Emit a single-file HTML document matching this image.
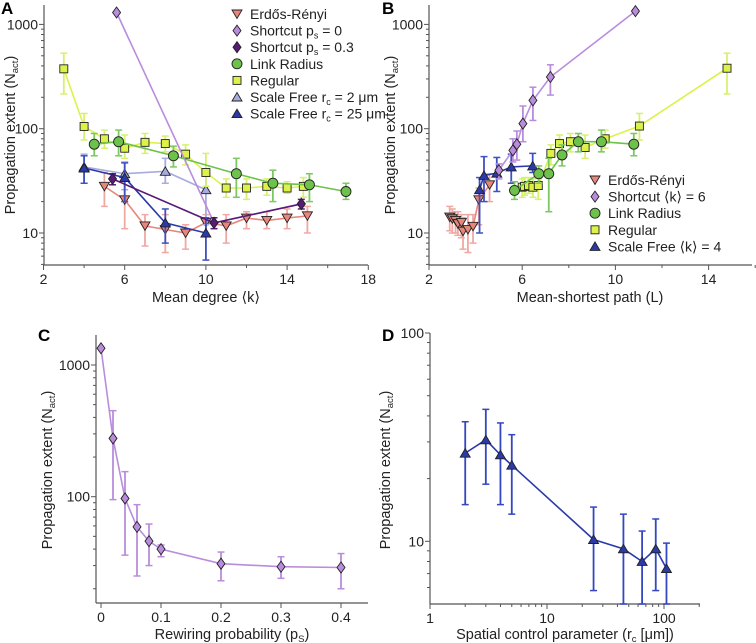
<!DOCTYPE html>
<html><head><meta charset="utf-8">
<style>
body{margin:0;background:#fff;}
svg{display:block;font-family:"Liberation Sans",Arial,sans-serif;}
</style></head>
<body>
<svg id="s" width="756" height="643" viewBox="0 0 756 643" xmlns="http://www.w3.org/2000/svg"></svg>
<script>
// ---------- Panel A data (x = mean degree) ----------
const aErX=[5,6,7,8,9,10,11,12,13,14,15];
const aErY=[28,20.8,11.7,10.8,10,12.6,11.7,13.9,13.2,13.9,14.6];
const aErLo=[18,11,7.5,6.5,7,10,8,11,11,11,10];
const aErHi=[38,33,15,15,12,15,15,16,16,17,18];
const aSc0X=[5.6,10.4,14.7];
const aSc0Y=[1300,12.5,19];
const aSc3X=[5.4,10.4,14.7];
const aSc3Y=[33,12.5,19];
const aSc3Lo=[29,11,17];
const aSc3Hi=[37,14,21];
const aLrX=[4.5,5.7,8.4,11.5,13.3,15.1,16.9];
const aLrY=[71,75,55,37,30,29,25];
const aLrLo=[55,55,43,22,20,20,21];
const aLrHi=[90,97,68,52,40,37,30];
const aRgX=[3,4,5,6,7,8,9,10,11,12,13,14,14.8];
const aRgY=[375,105,80,65,74,72,57,38,27,27,28,27,28];
const aRgLo=[215,78,65,52,58,60,45,28,22,21,23,24,22];
const aRgHi=[530,140,97,87,90,85,70,58,33,33,33,31,34];
const aSf2X=[4,6,8,10];
const aSf2Y=[43,37,39,26];
const aSf2Lo=[30,26,30,12];
const aSf2Hi=[57,48,52,38];
const aSf25X=[4,6,8,10];
const aSf25Y=[42,34,12.5,10];
const aSf25Lo=[30,20,8,5.5];
const aSf25Hi=[55,47,17,14];
// ---------- Panel B data (x = mean shortest path) ----------
const bErX=[2.89,3.0,3.14,3.24,3.39,3.46,3.67,3.89,4.14,4.6];
const bErY=[14.2,13.7,13.2,12.3,12.6,10.4,10.8,11.6,20.8,29];
const bErLo=[10.5,10,10,9.5,9,7,6.5,8,12,20];
const bErHi=[18,17,16,16,15,14,15,15,27,37];
const bScX=[5.0,5.6,5.77,6.03,6.46,7.21,10.86];
const bScY=[40,62,71,112,187,313,1340];
const bScLo=[33,48,50,75,120,210,1300];
const bScHi=[46,80,95,165,250,410,1380];
const bLrX=[5.67,6.71,7.14,7.71,8.41,9.4,10.79];
const bLrY=[25.6,37,37,56,75,75,71];
const bLrLo=[21,30,16,44,60,60,55];
const bLrHi=[31,44,52,70,90,97,90];
const bRgX=[6.0,6.1,6.27,6.46,6.69,7.23,7.6,8.07,8.7,9.56,11.03,14.79];
const bRgY=[27.5,28,28.5,27.5,28.5,58,72,75,66,80,106,380];
const bRgLo=[22,23,24,22,21,45,58,60,52,65,78,215];
const bRgHi=[33,34,34,33,36,70,87,90,87,97,140,530];
const bSfX=[4.17,4.36,4.91,5.53,6.45];
const bSfY=[26,35.6,37.5,43,44];
const bSfLo=[10,20,25,30,38];
const bSfHi=[34,54,53,57,58];
// ---------- Panel C data ----------
const cX=[0,0.02,0.04,0.06,0.08,0.1,0.2,0.3,0.4];
const cY=[1340,277,97,59,46,40,31,29.4,29];
const cLo=[1340,95,36,25,30,35,23,24,20];
const cHi=[1340,450,155,87,62,43,38,35,37];
// ---------- Panel D data ----------
const dX=[2,3,4,5,25,45,65,85,105];
const dY=[26.5,30.7,26,23.2,10.2,9.2,8.0,9.2,7.4];
const dLo=[15,18.8,15,13.5,5.8,5,5,5.8,5];
const dHi=[37.5,43,37,32.5,14.6,13.5,11.2,12.8,9.8];
// tick labels
const aXTicks=[2,6,10,14,18];
const bXTicks=[2,6,10,14];
const logYTicks=[10,100,1000];
const cXTicks=[0,0.1,0.2,0.3,0.4];
const dXTicks=[1,10,100];
const dYTicks=[10,100];

const NS="http://www.w3.org/2000/svg";
const S=document.getElementById('s');
function mk(tag,at,parent){const e=document.createElementNS(NS,tag);for(const k in at)e.setAttribute(k,at[k]);(parent||S).appendChild(e);return e;}
function txt(x,y,s,at,parent){const e=mk('text',Object.assign({x:x,y:y,'font-size':14,fill:'#222'},at||{}),parent);e.textContent=s;return e;}
const L=Math.log10;

const axA={x:v=>43.5+(v-2)*20.3,y:v=>233-(L(v)-1)*104.3,l:44,r:368,t:5,b:265};
const axB={x:v=>429+(v-2)*23.3,y:v=>233-(L(v)-1)*104.3,l:429,r:752,t:5,b:265};
const axC={x:v=>101+v*600,y:v=>365-(L(v)-3)*131.7,l:96,r:368,t:335,b:603};
const axD={x:v=>430+L(v)*117,y:v=>333-(L(v)-2)*208.3,l:430,r:700,t:333,b:604};

function drawAxes(ax,name,xt,xfmt,yt,logX,minorX){
  const g=mk('g',{});
  
  
  mk('line',{x1:ax.l,y1:ax.t,x2:ax.l,y2:ax.b,stroke:'#555','stroke-width':1.2},g);
  mk('line',{x1:ax.l,y1:ax.b,x2:ax.r,y2:ax.b,stroke:'#555','stroke-width':1.2},g);
  xt.forEach(v=>{const px=ax.x(v);mk('line',{x1:px,y1:ax.b,x2:px,y2:ax.b+5,stroke:'#555'},g);
    const t=txt(px,ax.b+19,xfmt(v),{'text-anchor':'middle'},g);
    
    });
  (minorX||[]).forEach(v=>{const px=ax.x(v);mk('line',{x1:px,y1:ax.b,x2:px,y2:ax.b+3,stroke:'#555'},g);});
  if(logX){for(let d=1;d<=100;d*=10)for(let m=2;m<=9;m++){const v=d*m;const px=ax.x(v);if(px<ax.r)mk('line',{x1:px,y1:ax.b,x2:px,y2:ax.b+3,stroke:'#555'},g);}}
  yt.forEach(v=>{const py=ax.y(v);mk('line',{x1:ax.l-5,y1:py,x2:ax.l,y2:py,stroke:'#555'},g);
    const t=txt(ax.l-6,py+5,String(v),{'text-anchor':'end'},g);
    
    });
  for(let d=1;d<=1000;d*=10)for(let m=2;m<=9;m++){const py=ax.y(d*m);if(py>ax.t&&py<ax.b)mk('line',{x1:ax.l-3,y1:py,x2:ax.l,y2:py,stroke:'#555'},g);}
}
function marker(g,shape,px,py,fill){
  const r=5;
  if(shape==='tri-down')mk('polygon',{points:`${px-r},${py-r*0.8} ${px+r},${py-r*0.8} ${px},${py+r*0.9}`,fill:fill,stroke:'#222','stroke-width':0.9},g);
  else if(shape==='tri-up')mk('polygon',{points:`${px-r},${py+r*0.8} ${px+r},${py+r*0.8} ${px},${py-r*0.9}`,fill:fill,stroke:'#222','stroke-width':0.9},g);
  else if(shape==='diamond')mk('polygon',{points:`${px},${py-r*1.1} ${px+r*0.8},${py} ${px},${py+r*1.1} ${px-r*0.8},${py}`,fill:fill,stroke:'#222','stroke-width':0.9},g);
  else if(shape==='circle')mk('circle',{cx:px,cy:py,r:r,fill:fill,stroke:'#222','stroke-width':0.9},g);
  else if(shape==='square')mk('rect',{x:px-4,y:py-4,width:8,height:8,fill:fill,stroke:'#222','stroke-width':0.9},g);
}
function series(ax,name,xs,ys,lo,hi,color,ecolor,fill,shape){
  const g=mk('g',{});
  
  
  if(lo){xs.forEach((v,i)=>{const px=ax.x(v),y1=ax.y(Math.max(lo[i],1e-3)),y2=ax.y(hi[i]);
    const yb=Math.min(y1,ax.b);
    mk('line',{x1:px,y1:yb,x2:px,y2:y2,stroke:ecolor,'stroke-width':1.8},g);
    mk('line',{x1:px-3.5,y1:yb,x2:px+3.5,y2:yb,stroke:ecolor,'stroke-width':1.5},g);
    mk('line',{x1:px-3.5,y1:y2,x2:px+3.5,y2:y2,stroke:ecolor,'stroke-width':1.5},g);});}
  mk('polyline',{points:xs.map((v,i)=>ax.x(v)+','+ax.y(ys[i])).join(' '),fill:'none',stroke:color,'stroke-width':1.6},g);
  xs.forEach((v,i)=>marker(g,shape,ax.x(v),ax.y(ys[i]),fill));
}
function legend(x,y,items,name){
  const g=mk('g',{});
  
  
  items.forEach((it,i)=>{const yy=y+i*16.6;
    const e=mk('g',{},g);
    
    
    marker(e,it[1],x,yy,it[2]);
    const t=txt(x+13,yy+5,'',{},e);t.innerHTML=it[0];});
}
const ER='#e8867c',ERe='#f0a8a2',SC0='#b98cdc',SC3='#5a1a78',LR='#6cc24a',LRe='#7dc860',RG='#dcf24a',RGe='#d8f070',SF2='#a6acde',SF25='#2b3aa8',SF25e='#4050c0';

drawAxes(axA,'panel-a',aXTicks,String,logYTicks,false,[4,8,12,16]);
series(axA,'series-er',aErX,aErY,aErLo,aErHi,ER,ERe,ER,'tri-down');
series(axA,'series-rc2',aSf2X,aSf2Y,aSf2Lo,aSf2Hi,SF2,SF2,SF2,'tri-up');
series(axA,'series-rc25',aSf25X,aSf25Y,aSf25Lo,aSf25Hi,SF25,SF25e,SF25,'tri-up');
series(axA,'series-regular',aRgX,aRgY,aRgLo,aRgHi,RG,RGe,RG,'square');
series(axA,'series-link-radius',aLrX,aLrY,aLrLo,aLrHi,LR,LRe,LR,'circle');
series(axA,'series-shortcut-0',aSc0X,aSc0Y,null,null,SC0,SC0,SC0,'diamond');
series(axA,'series-shortcut-03',aSc3X,aSc3Y,aSc3Lo,aSc3Hi,SC3,SC3,SC3,'diamond');
legend(237,14,[['Erdős-Rényi','tri-down',ER],['Shortcut p<tspan font-size="9" dy="3">s</tspan><tspan dy="-3"> = 0</tspan>','diamond',SC0],['Shortcut p<tspan font-size="9" dy="3">s</tspan><tspan dy="-3"> = 0.3</tspan>','diamond',SC3],['Link Radius','circle',LR],['Regular','square',RG],['Scale Free r<tspan font-size="9" dy="3">c</tspan><tspan dy="-3"> = 2 μm</tspan>','tri-up',SF2],['Scale Free r<tspan font-size="9" dy="3">c</tspan><tspan dy="-3"> = 25 μm</tspan>','tri-up',SF25]],'legend-a');

drawAxes(axB,'panel-b',bXTicks,String,logYTicks,false,[4,8,12,16]);
series(axB,'series-er-b',bErX,bErY,bErLo,bErHi,ER,ERe,ER,'tri-down');
series(axB,'series-sf-b',bSfX,bSfY,bSfLo,bSfHi,SF25,SF25e,SF25,'tri-up');
series(axB,'series-shortcut-b',bScX,bScY,bScLo,bScHi,SC0,SC0,SC0,'diamond');
series(axB,'series-regular-b',bRgX,bRgY,bRgLo,bRgHi,RG,RGe,RG,'square');
series(axB,'series-link-radius-b',bLrX,bLrY,bLrLo,bLrHi,LR,LRe,LR,'circle');
legend(595,180,[['Erdős-Rényi','tri-down',ER],['Shortcut ⟨k⟩ = 6','diamond',SC0],['Link Radius','circle',LR],['Regular','square',RG],['Scale Free ⟨k⟩ = 4','tri-up',SF25]],'legend-b');

drawAxes(axC,'panel-c',cXTicks,v=>String(v),[100,1000],false,[]);
series(axC,'series-shortcut-c',cX,cY,cLo,cHi,SC0,SC0,SC0,'diamond');

drawAxes(axD,'panel-d',dXTicks,String,dYTicks,true,[]);
series(axD,'series-scale-free-d',dX,dY,dLo,dHi,'#2b3aa8','#3446c0','#2b3aa8','tri-up');

function lab(x,y,html,name,rot){const t=txt(x,y,'',{'text-anchor':'middle','font-size':14.5},null);t.innerHTML=html;
  if(rot)t.setAttribute('transform',`rotate(-90 ${x} ${y})`);
  
  }
const yl='Propagation extent (N<tspan font-size="9.5" dy="3">act</tspan><tspan dy="-3">)</tspan>';
lab(206,302,'Mean degree ⟨k⟩','x-axis-title-a');
lab(15,135,yl,'y-axis-title-a',true);
lab(590,302,'Mean-shortest path (L)','x-axis-title-b');
lab(395,135,yl,'y-axis-title-b',true);
lab(232,639,'Rewiring probability (p<tspan font-size="9.5" dy="3">S</tspan><tspan dy="-3">)</tspan>','x-axis-title-c');
lab(52,470,yl,'y-axis-title-c',true);
lab(565,639,'Spatial control parameter (r<tspan font-size="9.5" dy="3">c</tspan><tspan dy="-3"> [μm])</tspan>','x-axis-title-d');
lab(390,470,yl,'y-axis-title-d',true);
function letter(x,y,s,n){const t=txt(x,y,s,{'font-weight':'bold','font-size':17,fill:'#000'});
  
  }
letter(1,14,'A','panel-label-a');letter(382,14,'B','panel-label-b');letter(38,341,'C','panel-label-c');letter(382,341,'D','panel-label-d');
</script>
</body></html>
